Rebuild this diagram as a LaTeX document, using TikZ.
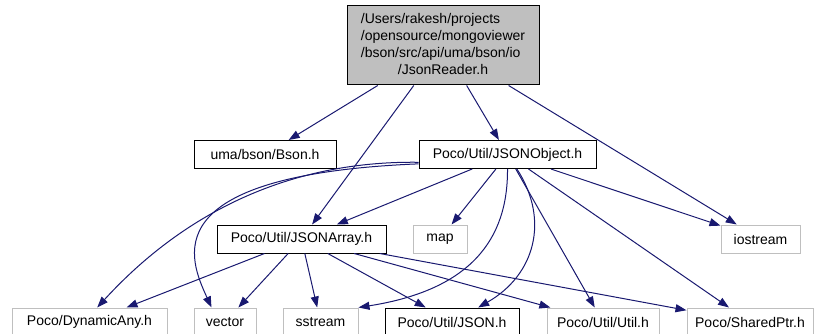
\documentclass[tikz,border=0pt]{standalone}
\usepackage{fontspec}
\setmainfont{Liberation Sans}
\usepackage{xcolor}
\usepackage{tikz}
\usetikzlibrary{arrows.meta}

\definecolor{edgeblue}{HTML}{191970}
\definecolor{boxgray}{HTML}{BFBFBF}

\begin{document}
\begin{tikzpicture}[x=1pt,y=-1pt,
  file/.style={draw=black, line width=1pt, minimum height=28pt, inner sep=0pt,
    font=\fontsize{14}{17}\selectfont},
  sysfile/.style={file, draw=boxgray},
  dep/.style={draw=edgeblue, line width=1pt, -{Triangle[length=11pt,width=8pt]}}]
\useasboundingbox (0,0) rectangle (814,334);

% the header itself
\node[file, fill=boxgray, minimum width=192pt, minimum height=79pt] (root) at (443,45.5)
  {\begin{tabular}{@{}l@{}}/Users/rakesh/projects\\/opensource/mongoviewer\\
   /bson/src/api/uma/bson/io\\\multicolumn{1}{@{}c@{}}{/JsonReader.h}\end{tabular}};

% direct includes
\node[file, minimum width=142pt] (bson) at (265,154.5) {uma/bson/Bson.h};
\node[file, minimum width=177pt] (jobj) at (507.5,154.5) {Poco/Util/JSONObject.h};
\node[file, minimum width=169pt] (jarr) at (301.5,239) {Poco/Util/JSONArray.h};
\node[sysfile, minimum width=54pt] (map) at (440,239) {map};
\node[sysfile, minimum width=79pt] (ios) at (760.5,239) {iostream};

% bottom row
\node[sysfile, minimum width=155pt] (dany) at (89.5,322) {Poco/DynamicAny.h};
\node[sysfile, minimum width=62pt] (vec) at (225,322) {vector};
\node[sysfile, minimum width=75pt] (sstr) at (320.5,322) {sstream};
\node[file, minimum width=134pt] (json) at (452,322) {Poco/Util/JSON.h};
\node[sysfile, minimum width=112pt] (util) at (603,322) {Poco/Util/Util.h};
\node[sysfile, minimum width=126pt] (sptr) at (750,322) {Poco/SharedPtr.h};

% JsonReader.h
\draw[dep] (root) -- (bson);
\draw[dep] (root) -- (jarr);
\draw[dep] (root) -- (jobj);
\draw[dep] (root) -- (ios);

% JSONObject.h
\draw[dep] (jobj.185) .. controls (250,160) and (150,250) .. (dany.62);
\draw[dep] (jobj.186) .. controls (150,175) and (190,260) .. (vec.133);
\draw[dep] (jobj) -- (jarr);
\draw[dep] (jobj) -- (map);
\draw[dep] (jobj.south) .. controls (508,240) and (470,290) .. (sstr.north east);
\draw[dep] (jobj.-57) .. controls (550,220) and (535,275) .. (json.29);
\draw[dep] (jobj) -- (util);
\draw[dep] (jobj) -- (sptr);
\draw[dep] (jobj) -- (ios);

% JSONArray.h
\draw[dep] (jarr) -- (dany);
\draw[dep] (jarr) -- (vec);
\draw[dep] (jarr) -- (sstr);
\draw[dep] (jarr) -- (json);
\draw[dep] (jarr) -- (util);
\draw[dep] (jarr) -- (sptr);
\end{tikzpicture}
\end{document}
